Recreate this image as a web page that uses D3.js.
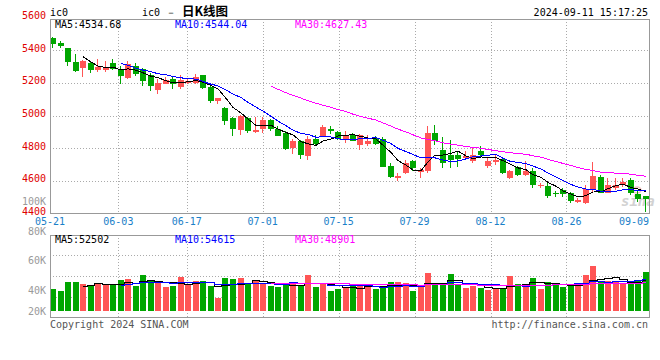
<!DOCTYPE html>
<html><head><meta charset="utf-8">
<script src="https://cdn.jsdelivr.net/npm/d3@7"></script>
<style>
html,body{margin:0;padding:0;background:#fff;}
svg{display:block;}
text{font-family:"DejaVu Sans Mono","Liberation Mono",monospace;}
</style></head>
<body>
<svg id="chart" width="660" height="360"></svg>
<script>
// ---------- DATA ----------
const dates = ["05-21","05-22","05-23","05-24","05-27","05-28","05-29","05-30","05-31",
"06-03","06-04","06-05","06-06","06-07","06-11","06-12","06-13","06-14","06-17","06-18","06-19","06-20","06-21","06-24","06-25","06-26","06-27","06-28",
"07-01","07-02","07-03","07-04","07-05","07-08","07-09","07-10","07-11","07-12","07-15","07-16","07-17","07-18","07-19","07-22","07-23","07-24","07-25","07-26","07-29","07-30","07-31",
"08-01","08-02","08-05","08-06","08-07","08-08","08-09","08-12","08-13","08-14","08-15","08-16","08-19","08-20","08-21","08-22","08-23","08-26","08-27","08-28","08-29","08-30",
"09-02","09-03","09-04","09-05","09-06","09-09","09-10"];
const openP  = [5474,5443,5412,5328,5289,5320,5279,5279,5320,5279,5228,5303,5283,5248,5156,5195,5222,5174,5201,5201,
5246,5177,5088,5043,4982,4914,4982,4897,4920,4971,4920,4894,4801,4842,4754,4858,4877,4920,4900,4858,
4883,4822,4828,4863,4858,4692,4617,4651,4723,4657,4663,4894,4791,4756,4760,4742,4719,4785,4692,4713,
4734,4617,4684,4637,4663,4569,4569,4524,4545,4528,4473,4463,4549,4626,4528,4555,4575,4606,4520,4508];
const highP  = [5482,5454,5415,5375,5338,5330,5345,5334,5345,5303,5332,5322,5289,5257,5222,5236,5236,5246,5226,5252,
5250,5191,5109,5051,4990,5006,4990,4990,4990,4980,4938,4903,4858,4852,4873,4883,4945,4938,4903,4908,
4894,4887,4883,4873,4871,4709,4647,4729,4729,4678,4934,4940,4871,4852,4780,4785,4801,4811,4742,4760,
4742,4670,4692,4719,4680,4586,4586,4540,4555,4534,4494,4575,4713,4637,4618,4618,4618,4618,4545,4508];
const lowP   = [5412,5412,5303,5263,5236,5260,5266,5263,5279,5195,5222,5242,5180,5150,5129,5191,5160,5160,5195,5195,
5160,5078,5068,4945,4877,4883,4894,4894,4894,4903,4877,4791,4766,4734,4729,4822,4873,4889,4852,4832,
4842,4787,4811,4822,4684,4617,4602,4643,4663,4617,4651,4822,4680,4678,4688,4729,4709,4742,4680,4698,
4643,4610,4630,4633,4555,4555,4494,4500,4503,4466,4466,4458,4534,4528,4528,4545,4565,4514,4473,4411];
const closeP = [5437,5426,5328,5273,5330,5279,5297,5289,5283,5242,5316,5252,5211,5180,5201,5215,5191,5215,5211,5236,
5166,5088,5109,4965,4920,4996,4903,4914,4971,4920,4877,4797,4846,4760,4858,4828,4928,4903,4858,4879,
4846,4883,4846,4828,4688,4626,4633,4709,4678,4668,4894,4842,4711,4729,4734,4751,4760,4760,4719,4729,
4651,4663,4637,4663,4575,4574,4508,4520,4520,4479,4483,4549,4631,4528,4575,4575,4596,4524,4487,4487];
const volume = [37100,33800,49000,49000,45600,43400,46800,45600,43400,52300,54000,42200,60800,52300,47800,40500,42200,57400,43400,50600,
50600,42200,22500,55700,54000,55700,46800,52300,45600,42200,40500,44400,49000,43400,60800,40500,46800,33800,37100,40500,
42200,42200,45600,37100,42200,49000,49000,46800,33800,42200,64100,46800,45600,62500,45600,39300,42700,39300,35400,39300,
37100,59600,45600,45600,56200,37100,49000,47300,41000,42700,42700,60800,76500,49000,50600,50600,45600,50600,50600,65800];

const priceTicks = [4400,4600,4800,5000,5200,5400,5600];
const volTickLabels = ["20K","40K","60K","80K","100K"];
const volTickValues = [20000,40000,60000,80000,100000];
const xTickLabels = ["05-21","06-03","06-17","07-01","07-15","07-29","08-12","08-26","09-09"];
const maNames = ["MA5","MA10","MA30"];
const maPeriods = [5,10,30];
const mainMaValues = ["4534.68","4544.04","4627.43"];
const volMaValues = ["52502","54615","48901"];
const symbol = "ic0";
const titleCJK = "日K线图";
const stamp = "2024-09-11 15:17:25";

// ---------- STYLE / LAYOUT ----------
const C = {up:"#ff5555", down:"#00a600", grid:"#aaa", border:"#999",
  priceLbl:"#e00000", volLbl:"#9a9a9a", dateLbl:"#1a80c8", ma:["#000","#0000ff","#ff00ff"], foot:"#555"};
const L = 50, R = 650;
const mainTop = 18.5, mainBot = 213.5;
const volTop = 234.5, volBot = 317.5;

const svg = d3.select("#chart");
const n = dates.length;
const xBar = d3.scaleLinear().domain([0, n]).range([L, R]);
const xGrid = d3.scaleLinear().domain([0, n - 1]).range([L, R]);
const barW = 6;
const cx = i => Math.round(xBar(i)) + 3;

const yP = d3.scaleLinear().domain([4400, 5600]).range([213.7, 17.3]);
const yV = d3.scaleLinear().domain([0, 130000]).range([311, 234]);
const yVLabel = d3.scaleLinear().domain(volTickValues).range([311, 290, 260, 231, 201]);

const mono = "DejaVu Sans Mono, Liberation Mono, monospace";

// ---------- HEADER ----------
svg.append("text").attr("x", 50).attr("y", 16).attr("font-size", 10).attr("fill", "#000").text(symbol);
const title = svg.append("text").attr("x", 185).attr("y", 16).attr("text-anchor", "middle").attr("fill", "#000");
title.append("tspan").attr("font-size", 10).text(symbol + " － ");
title.append("tspan").attr("font-size", 12.5).attr("font-weight", "bold")
  .attr("font-family", "Noto Sans CJK SC").text(titleCJK);
svg.append("text").attr("x", 648).attr("y", 16).attr("text-anchor", "end").attr("font-size", 10).attr("fill", "#000").text(stamp);

// ---------- GRIDS ----------
const g = svg.append("g").attr("shape-rendering", "crispEdges");
const gridIdx = xTickLabels.map(d => dates.indexOf(d)).filter(i => i > 0 && xGrid(i) < R - 10);
// main horizontal grid
g.selectAll(".hg").data(priceTicks.filter(p => p > 4400 && p < 5600)).enter().append("line")
  .attr("x1", L).attr("x2", R).attr("y1", d => Math.round(yP(d)) + 0.5).attr("y2", d => Math.round(yP(d)) + 0.5)
  .attr("stroke", C.grid).attr("stroke-dasharray", "1,2");
// main vertical grid
g.selectAll(".vg").data(gridIdx).enter().append("line")
  .attr("x1", d => Math.round(xGrid(d)) + 0.5).attr("x2", d => Math.round(xGrid(d)) + 0.5)
  .attr("y1", mainTop).attr("y2", mainBot).attr("stroke", C.grid).attr("stroke-dasharray", "1,2");
// volume grid
const volH = volBot - volTop;
g.selectAll(".vhg").data([1, 2, 3]).enter().append("line")
  .attr("x1", L).attr("x2", R).attr("y1", d => Math.round(volTop + d * volH / 4) + 0.5).attr("y2", d => Math.round(volTop + d * volH / 4) + 0.5)
  .attr("stroke", C.grid).attr("stroke-dasharray", "1,2");
g.selectAll(".vvg").data(gridIdx).enter().append("line")
  .attr("x1", d => Math.round(xGrid(d)) + 0.5).attr("x2", d => Math.round(xGrid(d)) + 0.5)
  .attr("y1", volTop).attr("y2", volBot).attr("stroke", C.grid).attr("stroke-dasharray", "1,2");

// ---------- WATERMARK ----------
svg.append("text").attr("x", 621).attr("y", 206).attr("font-family", "DejaVu Sans").attr("font-style", "italic")
  .attr("font-weight", "bold").attr("font-size", 14).attr("fill", "#d2d2d2").text("sina");
svg.append("ellipse").attr("cx", 637).attr("cy", 190).attr("rx", 4).attr("ry", 3).attr("fill", "none")
  .attr("stroke", "#f2c4c4").attr("stroke-width", 1.5);

// ---------- CANDLES ----------
const cg = svg.append("g").attr("shape-rendering", "crispEdges");
d3.range(n).forEach(i => {
  const o = openP[i], c = closeP[i], h = highP[i], l = lowP[i];
  const col = c >= o ? C.up : C.down;
  const left = Math.round(xBar(i));
  const yh = Math.round(yP(h)), yl = Math.round(yP(l));
  cg.append("rect").attr("x", left + 2).attr("y", yh).attr("width", 1).attr("height", Math.max(1, yl - yh)).attr("fill", col);
  const yt = Math.round(yP(Math.max(o, c))), yb = Math.round(yP(Math.min(o, c)));
  cg.append("rect").attr("x", left).attr("y", yt).attr("width", barW).attr("height", Math.max(1, yb - yt)).attr("fill", col);
});

// ---------- MOVING AVERAGES ----------
function ma(arr, p) { return arr.map((v, i) => i < p - 1 ? null : d3.mean(arr.slice(i - p + 1, i + 1))); }
maPeriods.forEach((p, k) => {
  const m = ma(closeP, p);
  const line = d3.line().defined(d => d != null).x((d, i) => cx(i)).y(d => yP(d));
  svg.append("path").attr("d", line(m)).attr("fill", "none").attr("stroke", C.ma[k]).attr("stroke-width", 1)
    .attr("shape-rendering", "crispEdges");
});

// ---------- VOLUME ----------
const vg = svg.append("g").attr("shape-rendering", "crispEdges");
vg.selectAll("rect").data(volume).enter().append("rect")
  .attr("x", (d, i) => Math.round(xBar(i))).attr("width", barW)
  .attr("y", d => Math.round(yV(d))).attr("height", d => Math.round(yV(0)) - Math.round(yV(d)))
  .attr("fill", (d, i) => closeP[i] >= openP[i] ? C.up : C.down);
maPeriods.forEach((p, k) => {
  const m = ma(volume, p);
  const line = d3.line().defined(d => d != null).x((d, i) => cx(i)).y(d => Math.round(yV(d)) + 0.5).curve(d3.curveStep);
  svg.append("path").attr("d", line(m)).attr("fill", "none").attr("stroke", C.ma[k]).attr("stroke-width", 1)
    .attr("shape-rendering", "crispEdges");
});

// ---------- BORDERS ----------
const bg = svg.append("g").attr("shape-rendering", "crispEdges").attr("fill", "none").attr("stroke", C.border);
bg.append("rect").attr("x", L + 0.5).attr("y", mainTop + 0.5).attr("width", R - L - 1).attr("height", mainBot - mainTop - 1);
bg.append("rect").attr("x", L + 0.5).attr("y", volTop + 0.5).attr("width", R - L - 1).attr("height", volBot - volTop - 1);

// ---------- AXIS LABELS ----------
svg.selectAll(".pl").data(priceTicks).enter().append("text")
  .attr("x", 46).attr("y", d => yP(d) - 2).attr("dy", "0.35em").attr("text-anchor", "end")
  .attr("font-size", 10).attr("fill", C.priceLbl).text(d => d);
svg.selectAll(".vl").data(volTickValues).enter().append("text")
  .attr("x", 46).attr("y", d => yVLabel(d)).attr("dy", "0.35em").attr("text-anchor", "end")
  .attr("font-size", 10).attr("fill", C.volLbl).text((d, i) => volTickLabels[i]);
svg.selectAll(".xl").data(xTickLabels).enter().append("text")
  .attr("x", d => Math.min(xGrid(dates.indexOf(d)), R - 16)).attr("y", 225).attr("text-anchor", "middle")
  .attr("font-size", 10).attr("fill", C.dateLbl).text(d => d);

// ---------- LEGENDS ----------
const legX = [55, 175, 295];
maNames.forEach((nm, k) => {
  svg.append("text").attr("x", legX[k]).attr("y", 28).attr("font-size", 10).attr("fill", C.ma[k]).text(nm + ":" + mainMaValues[k]);
  svg.append("text").attr("x", legX[k]).attr("y", 243).attr("font-size", 10).attr("fill", C.ma[k]).text(nm + ":" + volMaValues[k]);
});

// ---------- FOOTER ----------
svg.append("text").attr("x", 50).attr("y", 328).attr("font-size", 10).attr("fill", C.foot).text("Copyright 2024 SINA.COM");
svg.append("text").attr("x", 648).attr("y", 328).attr("text-anchor", "end").attr("font-size", 10).attr("fill", C.foot).text("http://finance.sina.com.cn");
</script>
</body></html>
